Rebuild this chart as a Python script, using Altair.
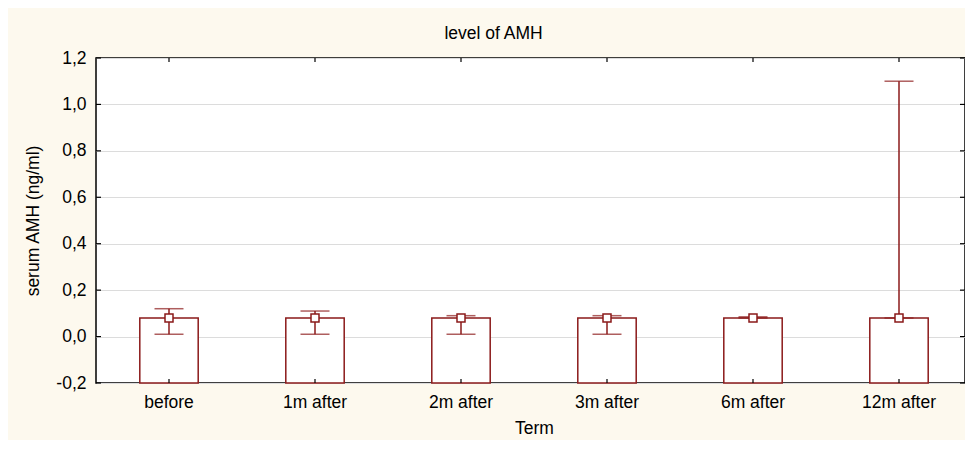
import altair as alt
import pandas as pd

# ---- data ----
terms = ["before", "1m after", "2m after", "3m after", "6m after", "12m after"]
means = [0.08, 0.08, 0.08, 0.08, 0.08, 0.08]
upper = [0.12, 0.11, 0.09, 0.09, 0.085, 1.10]
lower = [0.01, 0.01, 0.01, 0.01, 0.08, 0.08]
y_ticks = [-0.2, 0.0, 0.2, 0.4, 0.6, 0.8, 1.0, 1.2]

df = pd.DataFrame({"term": terms, "mean": means, "upper": upper, "lower": lower})
tick_df = pd.DataFrame({"v": y_ticks})

W, H = 869, 325          # visible plot area (reference is cropped at the right)
W_FULL = 876             # full band range so category centres match the reference
RED = "#8B1A1A"
FONT = "Liberation Sans"
YT = "serum AMH (ng/ml)"
XT = "Term"
FS = 17.5

label_expr = "(datum.value < 0 ? '-' : '') + replace(format(abs(datum.value), '.1f'), '.', ',')"

xscale = alt.Scale(paddingInner=0.6, paddingOuter=0.3, range=[0, W_FULL])
xaxis = alt.Axis(labelAngle=0, tickSize=0, domain=False, labelPadding=10,
                 titlePadding=9, grid=False)
yscale = alt.Scale(domain=[-0.2, 1.2], nice=False, zero=False)
yaxis = alt.Axis(values=y_ticks, grid=True, gridColor="#DCDCDC", gridWidth=1.2,
                 tickSize=0, domain=False, labelPadding=10, titlePadding=13,
                 labelExpr=label_expr)

def X():
    return alt.X("term:N", sort=terms, scale=xscale, axis=xaxis, title=XT)

base = alt.Chart(df)

bars = base.mark_bar(fill="white", stroke=RED, strokeWidth=1.5).encode(
    x=X(),
    y=alt.Y("mean:Q", scale=yscale, axis=yaxis, title=YT),
    y2=alt.datum(-0.2),
)

whisk = base.mark_rule(color=RED, strokeWidth=1.5).encode(
    x=X(), y=alt.Y("lower:Q", title=YT), y2="upper:Q"
)
cap_hi = base.mark_tick(color=RED, size=29, thickness=1.5, orient="horizontal").encode(
    x=X(), y=alt.Y("upper:Q", title=YT)
)
cap_lo = base.mark_tick(color=RED, size=29, thickness=1.5, orient="horizontal").encode(
    x=X(), y=alt.Y("lower:Q", title=YT)
)
pts = base.mark_point(shape="square", size=64, filled=True, fill="white", stroke=RED,
                      strokeWidth=1.5, opacity=1).encode(
    x=X(), y=alt.Y("mean:Q", title=YT)
)

# inward tick marks on all four sides
tk = alt.Chart(tick_df)
left_t = tk.mark_rule(color="black", strokeWidth=1.2).encode(
    y=alt.Y("v:Q", title=YT), x=alt.value(0), x2=alt.value(5))
right_t = tk.mark_rule(color="black", strokeWidth=1.2).encode(
    y=alt.Y("v:Q", title=YT), x=alt.value(W - 5), x2=alt.value(W))
top_t = base.mark_rule(color="black", strokeWidth=1.2).encode(
    x=X(), y=alt.value(0), y2=alt.value(4))
bot_t = base.mark_rule(color="black", strokeWidth=1.2).encode(
    x=X(), y=alt.value(H - 4), y2=alt.value(H))

chart = alt.layer(bars, whisk, cap_hi, cap_lo, pts, left_t, right_t, top_t, bot_t).properties(
    width=W,
    height=H,
    autosize=alt.AutoSizeParams(type="none"),
    padding={"left": 88, "top": 50, "right": 0, "bottom": 57},
    title=alt.TitleParams("level of AMH", fontSize=FS, font=FONT, fontWeight="normal",
                          color="black", dx=-37, offset=7),
).configure(
    background="#FDF9EE",
).configure_view(
    stroke="black", strokeWidth=1.5, fill="white"
).configure_axis(
    labelFont=FONT, labelFontSize=FS, labelColor="black",
    titleFont=FONT, titleFontSize=FS, titleColor="black", titleFontWeight="normal",
)

chart.save("out.html", embed_options={"renderer": "svg", "actions": False})
